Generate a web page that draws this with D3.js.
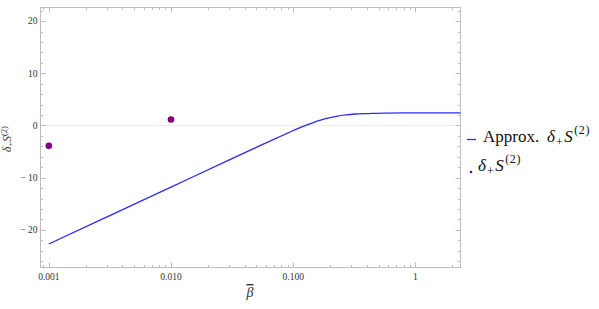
<!DOCTYPE html>
<html>
<head>
<meta charset="utf-8">
<script src="https://cdn.jsdelivr.net/npm/d3@7"></script>
<style>
  html, body { margin: 0; padding: 0; background: #fff; }
  svg text { font-family: "Liberation Serif", "DejaVu Serif", serif; }
</style>
</head>
<body>
<div id="chart"></div>
<script>
// approximate curve
const betaApprox = [0.001, 0.003, 0.01, 0.03, 0.05, 0.07, 0.09, 0.11, 0.13, 0.15, 0.17, 0.2, 0.23, 0.27, 0.32, 0.38, 0.45, 0.6, 0.8, 1.2, 2.34];
const sApprox    = [-22.7, -17.5, -11.8, -6.6, -4.19, -2.62, -1.47, -0.55, 0.12, 0.66, 1.06, 1.5, 1.8, 2.03, 2.2, 2.29, 2.34, 2.38, 2.4, 2.4, 2.4];

// exact points
const betaExact = [0.001, 0.01];
const sExact    = [-3.9, 1.15];

const xTickValues = [0.001, 0.01, 0.1, 1];
const xTickLabels = ['0.001', '0.010', '0.100', '1'];
const yTickValues = [-20, -10, 0, 10, 20];

const W = 599, H = 309;
const frame = { left: 40.5, right: 460.5, top: 7.5, bottom: 267.5 };
const lineColor = '#2b2bff';
const dotColor = '#800080';

const svg = d3.select('#chart').append('svg')
  .attr('width', W)
  .attr('height', H);

const x = d3.scaleLog()
  .domain([0.000855, 2.34])
  .range([frame.left, frame.right]);

const y = d3.scaleLinear()
  .domain([-27.2, 22.6])
  .range([frame.bottom, frame.top]);

// zero line
svg.append('line')
  .attr('x1', frame.left).attr('x2', frame.right)
  .attr('y1', y(0)).attr('y2', y(0))
  .attr('stroke', '#ececec')
  .attr('stroke-width', 1);

// frame
svg.append('rect')
  .attr('x', frame.left).attr('y', frame.top)
  .attr('width', frame.right - frame.left)
  .attr('height', frame.bottom - frame.top)
  .attr('fill', 'none')
  .attr('stroke', '#bdbdbd')
  .attr('stroke-width', 1);

// minor / major ticks on all four sides
const xMinor = [];
[0.0001, 0.001, 0.01, 0.1, 1].forEach(dec => {
  for (let k = 2; k <= 9; k++) {
    const v = dec * k;
    if (v > x.domain()[0] && v < x.domain()[1]) xMinor.push(v);
  }
});
const yMinor = d3.range(-26, 23, 2).filter(v => v % 10 !== 0);

const tickG = svg.append('g').attr('stroke', '#bdbdbd').attr('stroke-width', 1);
function xTick(v, len) {
  const px = Math.round(x(v)) + 0.5;
  tickG.append('line').attr('x1', px).attr('x2', px)
    .attr('y1', frame.bottom).attr('y2', frame.bottom - len);
  tickG.append('line').attr('x1', px).attr('x2', px)
    .attr('y1', frame.top).attr('y2', frame.top + len);
}
function yTick(v, len) {
  const py = Math.round(y(v)) + 0.5;
  tickG.append('line').attr('x1', frame.left).attr('x2', frame.left + len)
    .attr('y1', py).attr('y2', py);
  tickG.append('line').attr('x1', frame.right).attr('x2', frame.right - len)
    .attr('y1', py).attr('y2', py);
}
xTickValues.forEach(v => xTick(v, 5));
xMinor.forEach(v => xTick(v, 2.5));
yTickValues.forEach(v => yTick(v, 5));
yMinor.forEach(v => yTick(v, 2.5));

// tick labels
svg.append('g')
  .selectAll('text')
  .data(xTickValues)
  .join('text')
  .attr('x', d => x(d))
  .attr('y', frame.bottom + 12)
  .attr('text-anchor', 'middle')
  .attr('font-size', 9.5)
  .attr('fill', '#333')
  .text((d, i) => xTickLabels[i]);

svg.append('g')
  .selectAll('text')
  .data(yTickValues)
  .join('text')
  .attr('x', frame.left - 3)
  .attr('y', d => y(d))
  .attr('dy', '0.35em')
  .attr('text-anchor', 'end')
  .attr('font-size', 9.5)
  .attr('fill', '#333')
  .text(d => d < 0 ? '\u2212 ' + Math.abs(d) : String(d));

// x axis label: beta with a bar
svg.append('text')
  .attr('x', 250)
  .attr('y', 297)
  .attr('text-anchor', 'middle')
  .attr('font-size', 14)
  .attr('font-style', 'italic')
  .attr('fill', '#333')
  .style('text-decoration', 'overline')
  .text('\u03B2');

// y axis label
const yLab = svg.append('text')
  .attr('transform', 'translate(10.5,139) rotate(-90)')
  .attr('text-anchor', 'middle')
  .attr('font-size', 11.5)
  .attr('fill', '#333');
yLab.append('tspan').attr('font-style', 'italic').text('\u03B4');
yLab.append('tspan').attr('font-size', 8.5).attr('dy', 2.5).text('+');
yLab.append('tspan').attr('font-style', 'italic').attr('dy', -2.5).text('S');
yLab.append('tspan').attr('font-size', 8.5).attr('dy', -4).text('(2)');

// curve
const line = d3.line()
  .x(d => x(d[0]))
  .y(d => y(d[1]))
  .curve(d3.curveMonotoneX);

svg.append('path')
  .datum(betaApprox.map((b, i) => [b, sApprox[i]]))
  .attr('d', line)
  .attr('fill', 'none')
  .attr('stroke', lineColor)
  .attr('stroke-width', 1.3);

// points
svg.append('g')
  .selectAll('circle')
  .data(betaExact.map((b, i) => [b, sExact[i]]))
  .join('circle')
  .attr('cx', d => x(d[0]))
  .attr('cy', d => y(d[1]))
  .attr('r', 3.3)
  .attr('fill', dotColor);

// legend
const legend = svg.append('g');
legend.append('line')
  .attr('x1', 467).attr('x2', 476)
  .attr('y1', 139.5).attr('y2', 139.5)
  .attr('stroke', lineColor)
  .attr('stroke-width', 1.3);

function mathLabel(t, startX) {
  t.append('tspan').attr('x', startX).attr('font-style', 'italic').text('\u03B4');
  t.append('tspan').attr('font-size', 12).attr('dx', 1).attr('dy', 4).text('+');
  t.append('tspan').attr('font-style', 'italic').attr('dx', 1.5).attr('dy', -4).text('S');
  t.append('tspan').attr('font-size', 12).attr('dx', 1.5).attr('dy', -8)
    .attr('letter-spacing', 0.6).text('(2)');
}

const t1 = legend.append('text')
  .attr('x', 483).attr('y', 142)
  .attr('font-size', 17)
  .attr('fill', '#111');
t1.append('tspan').text('Approx.');
mathLabel(t1, 547);

legend.append('circle')
  .attr('cx', 471).attr('cy', 172)
  .attr('r', 1.3)
  .attr('fill', dotColor);
const t2 = legend.append('text')
  .attr('x', 478).attr('y', 171)
  .attr('font-size', 17)
  .attr('fill', '#111');
mathLabel(t2, 478);
</script>
</body>
</html>
